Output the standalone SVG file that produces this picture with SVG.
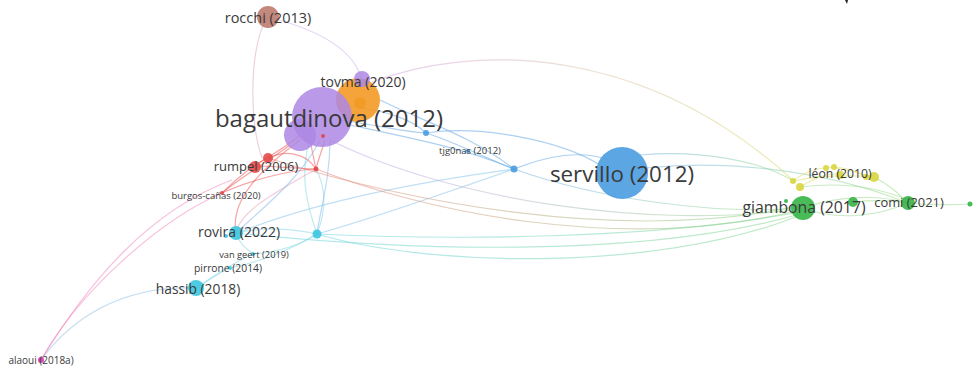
<svg xmlns="http://www.w3.org/2000/svg" width="974" height="371" viewBox="0 0 974 371">
<defs>
<style>
.e{fill:none;stroke-width:1.2;stroke-opacity:0.55}
.lbl{font-family:"Open Sans","Noto Sans",sans-serif;fill:#3a3a3a;text-anchor:middle;dominant-baseline:central}
.pu{fill:#ad87e4;fill-opacity:0.85}
.or{fill:#f39a26;fill-opacity:0.9}
.re{fill:#e33f3f;fill-opacity:0.85}
.cy{fill:#3cc6df;fill-opacity:0.9}
.bl{fill:#4a9de0;fill-opacity:0.9}
.ye{fill:#d8d640;fill-opacity:0.9}
.gr{fill:#35b446;fill-opacity:0.9}
.pk{fill:#d94ab6}
.br{fill:#b87466;fill-opacity:0.85}
</style>
<linearGradient id="gArc" x1="0" y1="0" x2="1" y2="0">
<stop offset="0" stop-color="#d8a8e8"/>
<stop offset="1" stop-color="#dede70"/>
</linearGradient>
<linearGradient id="gRG" x1="0" y1="0" x2="1" y2="0">
<stop offset="0" stop-color="#ef8a80"/>
<stop offset="1" stop-color="#8fd890"/>
</linearGradient>
<linearGradient id="gCG" x1="0" y1="0" x2="1" y2="0">
<stop offset="0" stop-color="#6fd6e8"/>
<stop offset="1" stop-color="#8fd890"/>
</linearGradient>
<linearGradient id="gBG" x1="0" y1="0" x2="1" y2="0">
<stop offset="0" stop-color="#7ab8ea"/>
<stop offset="1" stop-color="#a8e090"/>
</linearGradient>
<linearGradient id="gPG" x1="0" y1="0" x2="1" y2="0">
<stop offset="0" stop-color="#c8a8ee"/>
<stop offset="1" stop-color="#9cdc90"/>
</linearGradient>
</defs>
<rect width="974" height="371" fill="#ffffff"/>
<path d="M845,0 L848,0 L847,4 Z" fill="#222"/>
<g id="connectors">
<path class="e" stroke="#e2a8c8" d="M268,17 C250,40 248,120 262,158"/>
<path class="e" stroke="#d2b4ea" d="M268,17 C300,25 352,42 362,80"/>
<path class="e" stroke="url(#gArc)" d="M372,82 C470,45 640,40 795,182"/>
<path class="e" stroke="#6aaae6" d="M340,120 C380,125 400,132 426,133"/>
<path class="e" stroke="#6aaae6" d="M345,106 C390,110 415,122 426,133"/>
<path class="e" stroke="#6aaae6" d="M426,133 C450,140 490,160 514,169"/>
<path class="e" stroke="#6aaae6" d="M350,125 C420,140 470,150 514,169"/>
<path class="e" stroke="#6aaae6" d="M380,100 C420,120 470,135 514,169"/>
<path class="e" stroke="#6aaae6" d="M426,133 C480,125 560,140 600,165"/>
<path class="e" stroke="#6aaae6" d="M514,169 C550,155 580,150 610,160"/>
<path class="e" stroke="url(#gBG)" d="M640,155 C700,150 760,160 795,182"/>
<path class="e" stroke="url(#gBG)" d="M645,168 C720,160 820,168 908,203"/>
<path class="e" stroke="url(#gBG)" d="M514,169 C600,200 720,215 800,208"/>
<path class="e" stroke="#8cc4ec" d="M514,169 C440,195 360,222 317,234"/>
<path class="e" stroke="#8cc4ec" d="M514,169 C430,180 320,200 240,232"/>
<path class="e" stroke="url(#gRG)" d="M316,169 C420,210 620,255 800,210"/>
<path class="e" stroke="url(#gRG)" d="M268,158 C400,200 620,245 798,206"/>
<path class="e" stroke="url(#gPG)" d="M330,140 C450,200 650,230 800,209"/>
<path class="e" stroke="url(#gCG)" d="M317,234 C450,240 650,240 800,212"/>
<path class="e" stroke="url(#gCG)" d="M317,234 C420,265 650,275 801,215"/>
<path class="e" stroke="url(#gCG)" d="M236,233 C400,250 640,260 800,214"/>
<path class="e" stroke="#8ad8e6" d="M317,234 C305,200 300,170 310,140"/>
<path class="e" stroke="#8ad8e6" d="M317,234 C330,200 322,180 316,169"/>
<path class="e" stroke="#8ad8e6" d="M317,234 C290,228 260,228 236,233"/>
<path class="e" stroke="#8ad8e6" d="M317,234 C300,245 280,252 253,254"/>
<path class="e" stroke="#8ad8e6" d="M317,234 C290,250 260,262 230,268"/>
<path class="e" stroke="#8ad8e6" d="M196,288 C210,280 220,272 230,268"/>
<path class="e" stroke="#8ad8e6" d="M196,288 C215,275 235,262 253,254"/>
<path class="e" stroke="#8ad8e6" d="M236,233 C240,245 248,250 253,254"/>
<path class="e" stroke="#9cc8ea" d="M196,288 C120,285 70,320 41,360"/>
<path class="e" stroke="#f08ac0" d="M232,180 C150,210 90,280 41,360"/>
<path class="e" stroke="#f08ac0" d="M222,193 C160,220 80,290 41,360"/>
<path class="e" stroke="#ef5a5a" d="M255,166 C270,155 290,145 300,135"/>
<path class="e" stroke="#ef5a5a" d="M268,158 C285,150 305,152 316,169"/>
<path class="e" stroke="#ef5a5a" d="M222,193 C250,180 290,170 316,169"/>
<path class="e" stroke="#ef5a5a" d="M222,193 C240,175 258,162 268,158"/>
<path class="e" stroke="#ef5a5a" d="M310,140 C312,150 314,160 316,169"/>
<path class="e" stroke="#ef5a5a" d="M325,140 C322,150 318,160 316,169"/>
<path class="e" stroke="#ef5a5a" d="M316,169 C290,168 270,166 255,166"/>
<path class="e" stroke="#ef5a5a" d="M290,145 C270,160 240,178 222,193"/>
<path class="e" stroke="#ef5a5a" d="M300,140 C260,170 230,200 236,233"/>
<path class="e" stroke="#e8a0b8" d="M316,169 C280,190 240,210 236,233"/>
<path class="e" stroke="#8ab8ec" d="M320,140 C300,180 260,210 236,233"/>
<path class="e" stroke="#8ab8ec" d="M330,140 C330,180 320,210 317,234"/>
<path class="e" stroke="#dede70" d="M793,181 C800,175 815,168 826,168"/>
<path class="e" stroke="#dede70" d="M800,187 C815,178 830,172 840,175"/>
<path class="e" stroke="#dede70" d="M834,168 C850,170 860,174 874,177"/>
<path class="e" stroke="#dede70" d="M826,168 C840,165 860,172 866,177"/>
<path class="e" stroke="#dede70" d="M793,181 C820,176 850,175 874,177"/>
<path class="e" stroke="#9cdc90" d="M803,208 C840,222 880,215 908,203"/>
<path class="e" stroke="#9cdc90" d="M803,208 C840,195 880,195 908,203"/>
<path class="e" stroke="#9cdc90" d="M800,187 C840,182 875,186 908,200"/>
<path class="e" stroke="#9cdc90" d="M874,177 C890,185 900,195 908,203"/>
<path class="e" stroke="#9cdc90" d="M908,203 C930,205 950,205 970,204"/>
<path class="e" stroke="#9cdc90" d="M853,202 C870,200 890,200 908,203"/>
</g>
<g id="n-rocchi"><circle class="br" cx="268" cy="17" r="11"/><text class="lbl" x="268" y="17" font-size="14.5">rocchi (2013)</text></g>
<g id="n-tovma"><circle class="or" cx="358" cy="100" r="22"/><circle class="pu" cx="362" cy="79" r="8"/><circle class="or" cx="360" cy="103" r="6"/><text class="lbl" x="363" y="81" font-size="14">tovma (2020)</text></g>
<g id="n-bagautdinova"><circle class="pu" cx="300" cy="135" r="16"/><circle class="pu" cx="322" cy="117" r="30"/><circle class="re" cx="323" cy="136" r="2"/><text class="lbl" x="329" y="117" font-size="24">bagautdinova (2012)</text></g>
<g id="n-rumpel"><circle class="re" cx="268" cy="158" r="5"/><circle class="re" cx="255" cy="167" r="6"/><circle class="re" cx="316" cy="169" r="2.5"/><text class="lbl" x="256" y="166" font-size="13">rumpel (2006)</text></g>
<g id="n-burgos"><circle class="re" cx="222" cy="193" r="2"/><text class="lbl" x="216" y="195" font-size="9.5">burgos-cañas (2020)</text></g>
<g id="n-rovira"><circle class="cy" cx="236" cy="233" r="7"/><circle class="cy" cx="226" cy="236" r="2"/><circle class="cy" cx="317" cy="234" r="4.5"/><text class="lbl" x="239" y="231" font-size="14">rovira (2022)</text></g>
<g id="n-vangeert"><circle class="cy" cx="253" cy="254" r="2"/><text class="lbl" x="254" y="254" font-size="9.3">van geert (2019)</text></g>
<g id="n-pirrone"><circle class="cy" cx="230" cy="268" r="2"/><text class="lbl" x="228" y="268" font-size="10.3">pirrone (2014)</text></g>
<g id="n-hassib"><circle class="cy" cx="196" cy="288" r="8"/><text class="lbl" x="198" y="288" font-size="13.8">hassib (2018)</text></g>
<g id="n-alaoui"><circle class="pk" cx="41" cy="360" r="3"/><text class="lbl" x="41" y="360" font-size="10">alaoui (2018a)</text></g>
<g id="n-tjg0nas"><circle class="bl" cx="426" cy="133" r="3"/><circle class="bl" cx="468" cy="151" r="2"/><circle class="bl" cx="514" cy="169" r="3.5"/><text class="lbl" x="470" y="150" font-size="9.5">tjg0nas (2012)</text></g>
<g id="n-servillo"><circle class="bl" cx="622" cy="173" r="26"/><text class="lbl" x="622" y="173" font-size="22.4">servillo (2012)</text></g>
<g id="n-leon"><circle class="ye" cx="793" cy="181" r="3"/><circle class="ye" cx="800" cy="187" r="4"/><circle class="ye" cx="826" cy="168" r="3"/><circle class="ye" cx="834" cy="167" r="3"/><circle class="ye" cx="840" cy="175" r="4"/><circle class="ye" cx="866" cy="177" r="3"/><circle class="ye" cx="874" cy="177" r="5"/><text class="lbl" x="840" y="173" font-size="12.2">léon (2010)</text></g>
<g id="n-giambona"><circle class="gr" cx="803" cy="208" r="12"/><circle class="gr" cx="853" cy="202" r="5"/><circle class="gr" cx="786" cy="201" r="2"/><text class="lbl" x="804" y="207" font-size="15.8">giambona (2017)</text></g>
<g id="n-comi"><circle class="gr" cx="908" cy="203" r="7"/><circle class="gr" cx="970" cy="204" r="2.5"/><text class="lbl" x="909" y="202" font-size="12.9">comi (2021)</text></g>
</svg>
